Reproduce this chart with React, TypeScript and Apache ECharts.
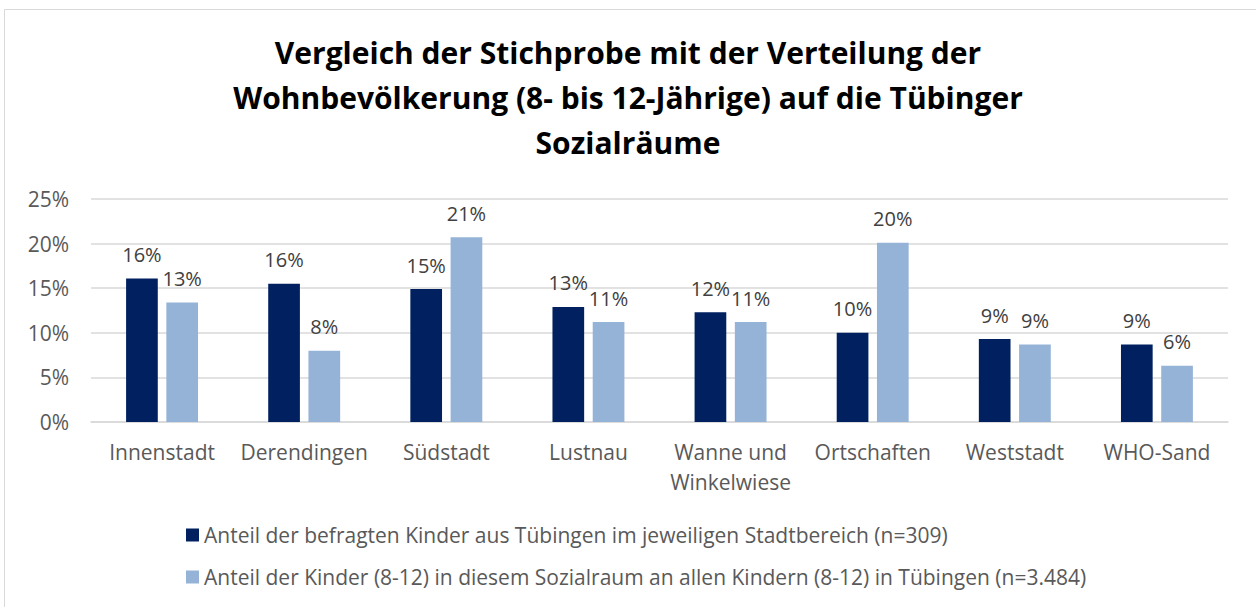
import React, { useEffect, useRef } from "react";
import * as echarts from "echarts";

const categories = ["Innenstadt", "Derendingen", "Südstadt", "Lustnau", "Wanne und Winkelwiese", "Ortschaften", "Weststadt", "WHO-Sand"];
const seriesNames = [
  "Anteil der befragten Kinder aus Tübingen im jeweiligen Stadtbereich (n=309)",
  "Anteil der Kinder (8-12) in diesem Sozialraum an allen Kindern (8-12) in Tübingen (n=3.484)",
];
const befragte = [16.1, 15.5, 14.9, 12.9, 12.3, 10.0, 9.3, 8.7];
const bevoelkerung = [13.4, 8.0, 20.7, 11.2, 11.2, 20.1, 8.7, 6.3];
const yTicks = { min: 0, max: 25, interval: 5 };
const titleText = "Vergleich der Stichprobe mit der Verteilung der\nWohnbevölkerung (8- bis 12-Jährige) auf die Tübinger\nSozialräume";

const FONT = "Open Sans";

export default function App() {
  const ref = useRef<HTMLDivElement>(null);
  useEffect(() => {
    if (!ref.current) return;
    const chart = echarts.init(ref.current, undefined, { renderer: "svg" });
    const label = {
      show: true,
      position: "top" as const,
      distance: 14,
      color: "#404040",
      fontSize: 20,
      fontFamily: FONT,
      formatter: (p: any) => Math.round(p.value) + "%",
    };
    chart.setOption({
      animation: false,
      backgroundColor: "#ffffff",
      textStyle: { fontFamily: FONT },
      graphic: [
        {
          type: "rect",
          shape: { x: 4.5, y: 9.5, width: 1262, height: 620 },
          style: { fill: "none", stroke: "#d9d9d9", lineWidth: 1 },
          silent: true,
        },
      ],
      title: {
        text: titleText,
        left: "center",
        top: 30,
        padding: 0,
        textStyle: {
          fontFamily: FONT,
          fontWeight: "bold",
          fontSize: 30,
          lineHeight: 45,
          color: "#000000",
        },
      },
      legend: {
        orient: "vertical",
        left: 186,
        top: 524,
        padding: 0,
        itemWidth: 13,
        itemHeight: 13,
        itemGap: 20,
        icon: "rect",
        textStyle: { fontFamily: FONT, fontSize: 21, color: "#595959", lineHeight: 22 },
        data: seriesNames,
      },
      grid: { left: 91, right: 28, top: 199, bottom: 185, containLabel: false },
      xAxis: {
        type: "category",
        data: categories,
        axisTick: { show: false },
        axisLine: { lineStyle: { color: "#d9d9d9", width: 1.5 } },
        axisLabel: {
          interval: 0,
          color: "#595959",
          fontSize: 21,
          fontFamily: FONT,
          lineHeight: 30,
          margin: 15,
          formatter: (v: string) => v.replace(" und ", " und\n"),
        },
      },
      yAxis: {
        type: "value",
        min: yTicks.min,
        max: yTicks.max,
        interval: yTicks.interval,
        axisLine: { show: false },
        axisTick: { show: false },
        splitLine: { lineStyle: { color: "#d9d9d9", width: 1.5 } },
        axisLabel: {
          color: "#595959",
          fontSize: 21,
          fontFamily: FONT,
          margin: 22,
          formatter: "{value}%",
        },
      },
      series: [
        {
          name: seriesNames[0],
          type: "bar",
          data: befragte,
          barWidth: "22.3%",
          barGap: "27%",
          itemStyle: { color: "#002060" },
          label,
        },
        {
          name: seriesNames[1],
          type: "bar",
          data: bevoelkerung,
          barWidth: "22.3%",
          barGap: "27%",
          itemStyle: { color: "#95B3D7" },
          label,
        },
      ],
    });
    return () => chart.dispose();
  }, []);
  return (
    <div
      ref={ref}
      style={{ position: "fixed", left: 0, top: 0, width: 1256, height: 607 }}
    />
  );
}
